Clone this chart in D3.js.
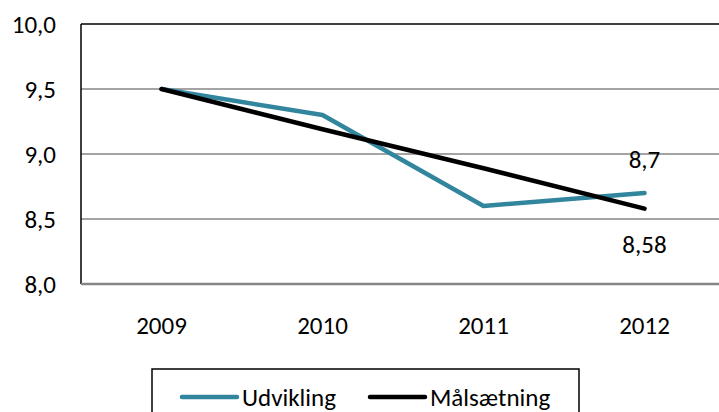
<!DOCTYPE html>
<html>
<head>
<meta charset="utf-8">
<script src="https://cdn.jsdelivr.net/npm/d3@7"></script>
<style>
  body { margin: 0; background: #fff; }
  text { font-family: Carlito, "Open Sans", sans-serif; fill: #000; font-size: 25px; }
</style>
</head>
<body>
<svg width="719" height="412"></svg>
<script>
var years = ["2009", "2010", "2011", "2012"];
var udvikling = [9.5, 9.3, 8.6, 8.7];
var maalsaetning = [9.5, 9.19, 8.89, 8.58];
var yTicks = [8.0, 8.5, 9.0, 9.5, 10.0];
var seriesNames = ["Udvikling", "Målsætning"];
var seriesColors = ["#31859c", "#000000"];

var svg = d3.select("svg");
var plotLeft = 81, plotTop = 24, plotRight = 725, plotBottom = 284;

var x = d3.scaleBand().domain(years).range([plotLeft, plotRight]);
var y = d3.scaleLinear().domain([8, 10]).range([plotBottom, plotTop]);
var fmt = function(v) { return d3.format(".1f")(v).replace(".", ","); };

// gridlines
svg.selectAll("line.grid")
  .data(yTicks.filter(function(d) { return d > 8 && d < 10; }))
  .enter().append("line")
  .attr("x1", plotLeft).attr("x2", 719)
  .attr("y1", function(d) { return y(d); }).attr("y2", function(d) { return y(d); })
  .attr("stroke", "#868686").attr("stroke-width", 1.5);

// frame: top + left black, bottom gray
svg.append("line").attr("x1", plotLeft).attr("x2", 719).attr("y1", y(10)).attr("y2", y(10))
  .attr("stroke", "#000").attr("stroke-width", 1.5);
svg.append("line").attr("x1", plotLeft).attr("x2", plotLeft).attr("y1", y(10)).attr("y2", y(8))
  .attr("stroke", "#000").attr("stroke-width", 1.5);
svg.append("line").attr("x1", plotLeft).attr("x2", 719).attr("y1", y(8)).attr("y2", y(8))
  .attr("stroke", "#868686").attr("stroke-width", 2.5);

// y tick labels
svg.selectAll("text.ytick").data(yTicks).enter().append("text")
  .attr("x", 56).attr("y", function(d) { return y(d); })
  .attr("dy", "0.35em").attr("text-anchor", "end")
  .text(fmt);

// x tick labels
svg.selectAll("text.xtick").data(years).enter().append("text")
  .attr("x", function(d) { return x(d) + x.bandwidth() / 2; })
  .attr("y", 325).attr("dy", "0.35em").attr("text-anchor", "middle")
  .text(function(d) { return d; });

var line = d3.line()
  .x(function(d, i) { return x(years[i]) + x.bandwidth() / 2; })
  .y(function(d) { return y(d); });

svg.append("path").datum(udvikling).attr("d", line)
  .attr("fill", "none").attr("stroke", seriesColors[0]).attr("stroke-width", 4.5)
  .attr("stroke-linecap", "round").attr("stroke-linejoin", "round");
svg.append("path").datum(maalsaetning).attr("d", line)
  .attr("fill", "none").attr("stroke", seriesColors[1]).attr("stroke-width", 4.5)
  .attr("stroke-linecap", "round").attr("stroke-linejoin", "round");

// end labels
var lastX = x(years[3]) + x.bandwidth() / 2;
svg.append("text").attr("x", lastX).attr("y", 159).attr("dy", "0.35em")
  .attr("text-anchor", "middle")
  .text(String(udvikling[3]).replace(".", ","));
svg.append("text").attr("x", lastX).attr("y", 244).attr("dy", "0.35em")
  .attr("text-anchor", "middle")
  .text(String(maalsaetning[3]).replace(".", ","));

// legend
svg.append("rect").attr("x", 152).attr("y", 369).attr("width", 427).attr("height", 60)
  .attr("fill", "#fff").attr("stroke", "#000").attr("stroke-width", 1.5);
var legendX = [182, 370];
var lg = svg.selectAll("g.leg").data(seriesNames).enter().append("g")
  .attr("transform", function(d, i) { return "translate(" + legendX[i] + ",397)"; });
lg.append("line").attr("x1", 0).attr("x2", 55).attr("y1", 0).attr("y2", 0)
  .attr("stroke", function(d, i) { return seriesColors[i]; }).attr("stroke-width", 4.5)
  .attr("stroke-linecap", "round");
lg.append("text").attr("x", 60).attr("y", 0).attr("dy", "0.35em")
  .text(function(d) { return d; });
</script>
</body>
</html>
